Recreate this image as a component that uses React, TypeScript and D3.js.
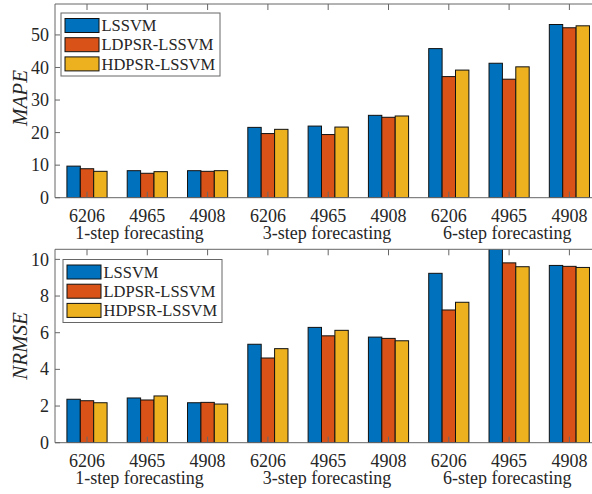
import React from 'react';
import * as d3 from 'd3';

const categories = ['6206', '4965', '4908', '6206', '4965', '4908', '6206', '4965', '4908'];
const seriesNames = ['LSSVM', 'LDPSR-LSSVM', 'HDPSR-LSSVM'];
const seriesColors = ['#0072BD', '#D95319', '#EDB120'];

const mapeLSSVM = [9.7, 8.3, 8.3, 21.6, 22.0, 25.3, 45.8, 41.3, 53.2];
const mapeLDPSR = [8.9, 7.5, 8.1, 19.7, 19.4, 24.7, 37.2, 36.4, 52.2];
const mapeHDPSR = [8.1, 8.0, 8.3, 21.0, 21.7, 25.1, 39.2, 40.2, 52.8];

const nrmseLSSVM = [2.37, 2.44, 2.18, 5.37, 6.29, 5.76, 9.24, 10.9, 9.67];
const nrmseLDPSR = [2.29, 2.33, 2.2, 4.62, 5.83, 5.69, 7.24, 9.81, 9.62];
const nrmseHDPSR = [2.18, 2.55, 2.11, 5.13, 6.13, 5.56, 7.66, 9.6, 9.56];

const mapeTicks = [0, 10, 20, 30, 40, 50];
const nrmseTicks = [0, 2, 4, 6, 8, 10];
const groupLabels = ['1-step forecasting', '3-step forecasting', '6-step forecasting'];
const groupLabelAt = [1.87, 4.98, 7.97];

const FONT = '"Liberation Serif", "Times New Roman", serif';
const AXIS_COLOR = '#666';
const TEXT_COLOR = '#262626';

type PanelProps = {
  id: string;
  top: number;
  bottom: number;
  yMax: number;
  ticks: number[];
  series: number[][];
  yLabel: string;
  yLabelCenter: number;
  legendX: number;
  legendY: number;
  groupLabelBaseline: number;
};

const LEFT = 55;
const X1 = 87;
const X9 = 569.4;

function Panel(p: PanelProps) {
  const x = d3.scaleLinear().domain([1, 9]).range([X1, X9]);
  const xLeft = LEFT;
  const xRight = x(9) + (X1 - LEFT);
  const y = d3.scaleLinear().domain([0, p.yMax]).range([p.bottom, p.top]);
  const bw = 0.222;
  const barPx = x(1 + bw) - x(1);
  const idx = d3.range(categories.length);
  return (
    <g>
      <defs>
        <clipPath id={p.id}>
          <rect x={xLeft} y={p.top} width={xRight - xLeft} height={p.bottom - p.top} />
        </clipPath>
      </defs>
      <rect x={xLeft} y={p.top} width={xRight - xLeft} height={p.bottom - p.top} fill="#fff" />
      <g clipPath={`url(#${p.id})`}>
        {p.series.map((vals, s) =>
          idx.map((i) => {
            const cx = x(i + 1) + (s - 1) * barPx;
            const yv = y(vals[i]);
            return (
              <rect
                key={`${s}-${i}`}
                x={cx - barPx / 2}
                y={yv}
                width={barPx}
                height={y(0) - yv}
                fill={seriesColors[s]}
                stroke="#111"
                strokeWidth={1}
              />
            );
          })
        )}
      </g>
      <line x1={xLeft} x2={xRight} y1={p.top} y2={p.top} stroke={AXIS_COLOR} strokeWidth={1} />
      <line x1={xLeft} x2={xRight} y1={p.bottom} y2={p.bottom} stroke={AXIS_COLOR} strokeWidth={1} />
      <line x1={xLeft} x2={xLeft} y1={p.top} y2={p.bottom} stroke={AXIS_COLOR} strokeWidth={1} />
      <line x1={xRight} x2={xRight} y1={p.top} y2={p.bottom} stroke={AXIS_COLOR} strokeWidth={1} />
      {idx.map((i) => (
        <g key={`xt${i}`}>
          <line x1={x(i + 1)} x2={x(i + 1)} y1={p.top} y2={p.top + 6} stroke={AXIS_COLOR} />
          <line x1={x(i + 1)} x2={x(i + 1)} y1={p.bottom} y2={p.bottom - 6} stroke={AXIS_COLOR} />
          <text
            x={x(i + 1)}
            y={p.bottom + 24}
            textAnchor="middle"
            fontFamily={FONT}
            fontSize={18}
            fill={TEXT_COLOR}
          >
            {categories[i]}
          </text>
        </g>
      ))}
      {groupLabels.map((g, k) => (
        <text
          key={g}
          x={x(groupLabelAt[k])}
          y={p.bottom + p.groupLabelBaseline}
          textAnchor="middle"
          fontFamily={FONT}
          fontSize={18}
          fill={TEXT_COLOR}
        >
          {g}
        </text>
      ))}
      {p.ticks.map((t) => (
        <g key={`yt${t}`}>
          <line x1={xLeft} x2={xLeft + 5} y1={y(t)} y2={y(t)} stroke={AXIS_COLOR} />
          <text
            x={xLeft - 6}
            y={y(t)}
            dy="0.34em"
            textAnchor="end"
            fontFamily={FONT}
            fontSize={18}
            fill={TEXT_COLOR}
          >
            {t}
          </text>
        </g>
      ))}
      <text
        transform={`translate(${27},${p.yLabelCenter}) rotate(-90)`}
        textAnchor="middle"
        fontFamily={FONT}
        fontStyle="italic"
        fontSize={21}
        fill={TEXT_COLOR}
      >
        {p.yLabel}
      </text>
      <g transform={`translate(${p.legendX},${p.legendY})`}>
        <rect x={0} y={0} width={159} height={63} fill="#fff" stroke={AXIS_COLOR} strokeWidth={1} />
        {seriesNames.map((n, s) => (
          <g key={n} transform={`translate(0,${12.5 + s * 19.2})`}>
            <rect x={4} y={-7} width={34} height={14} fill={seriesColors[s]} stroke="#111" strokeWidth={1} />
            <text x={40.5} y={0} dy="0.35em" fontFamily={FONT} fontSize={16.5} fill={TEXT_COLOR}>
              {n}
            </text>
          </g>
        ))}
      </g>
    </g>
  );
}

export default function App() {
  return (
    <svg
      width={592}
      height={494}
      style={{ position: 'absolute', left: 0, top: 0, background: '#fff' }}
    >
      <rect x={0} y={0} width={592} height={494} fill="#fff" />
      <Panel
        id="clipTop"
        top={4}
        bottom={197.7}
        yMax={59.5}
        ticks={mapeTicks}
        series={[mapeLSSVM, mapeLDPSR, mapeHDPSR]}
        yLabel="MAPE"
        yLabelCenter={98}
        legendX={61}
        legendY={13}
        groupLabelBaseline={41.5}
      />
      <Panel
        id="clipBottom"
        top={249.3}
        bottom={442.7}
        yMax={10.55}
        ticks={nrmseTicks}
        series={[nrmseLSSVM, nrmseLDPSR, nrmseHDPSR]}
        yLabel="NRMSE"
        yLabelCenter={346}
        legendX={63}
        legendY={259.5}
        groupLabelBaseline={41.5}
      />
    </svg>
  );
}
